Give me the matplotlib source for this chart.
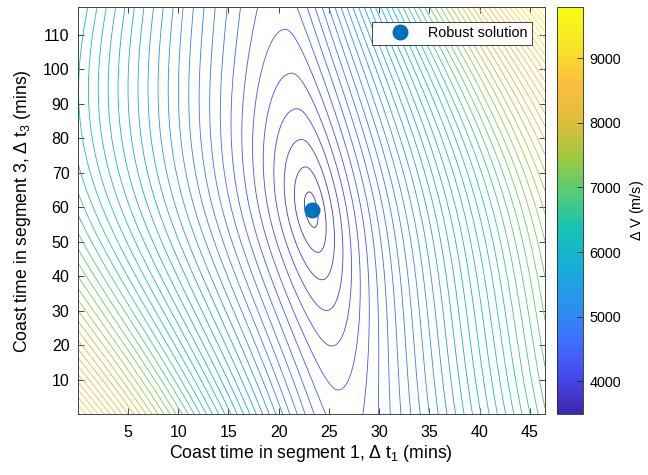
import numpy as np
import matplotlib
matplotlib.use('Agg')
import matplotlib.pyplot as plt
from matplotlib.colors import LinearSegmentedColormap

plt.rcParams['font.family'] = ['Liberation Sans', 'DejaVu Sans']
plt.rcParams['mathtext.fontset'] = 'custom'
plt.rcParams['mathtext.rm'] = 'Liberation Sans'
plt.rcParams['mathtext.it'] = 'Liberation Sans'

# coast time grids (mins)
t1_range = [0.0, 46.5]
t3_range = [0.0, 118.0]

# robust solution
t1_opt = 23.3
t3_opt = 59.3
dv_min = 3490.0

# valley of the delta-V surface: t1 = t1_opt + v1*q, q = t3 - t3_opt
valley_lin = -0.05
# cross-valley slope (m/s per min of t1) on each side: s0 + s1*q + s2*q^2 + s3*q^3
slope_left = [137.0, -0.60, 0.0115, 0.0]
slope_right = [172.0, 0.40, 0.008, 0.00008]
# rise along the valley floor: g1*|q| + g2*q^2
floor_rise = [19.0, -0.10]

# contour levels (m/s)
first_level = 3585.0
level_step = 125.0

# parula colour anchors
parula_pts = [
    (0.2422, 0.1504, 0.6603),
    (0.2758, 0.2888, 0.9270),
    (0.2473, 0.4372, 0.9975),
    (0.1684, 0.5766, 0.9301),
    (0.0821, 0.6841, 0.8488),
    (0.0890, 0.7590, 0.7066),
    (0.3325, 0.8000, 0.4617),
    (0.6418, 0.7857, 0.2462),
    (0.8882, 0.7383, 0.2394),
    (0.9941, 0.7463, 0.2399),
    (0.9654, 0.9010, 0.1453),
    (0.9769, 0.9839, 0.0805),
]
parula = LinearSegmentedColormap.from_list('parula', parula_pts)


def poly(c, x):
    return c[0] + c[1] * x + c[2] * x**2 + c[3] * x**3


t1 = np.linspace(t1_range[0], t1_range[1], 600)
t3 = np.linspace(t3_range[0], t3_range[1], 600)
T1, T3 = np.meshgrid(t1, t3)

q = T3 - t3_opt
p = T1 - (t1_opt + valley_lin * q)
slope = np.where(p < 0, poly(slope_left, q), poly(slope_right, q))
floor = floor_rise[0] * np.abs(q) + floor_rise[1] * q**2
dv = dv_min + np.sqrt((slope * p)**2 + floor**2)

fig = plt.figure(figsize=(6.48, 4.75), dpi=100)
ax = fig.add_axes([0.120, 0.128, 0.721, 0.857])
cax = fig.add_axes([0.860, 0.128, 0.040, 0.857])

levels = np.arange(first_level, dv.max(), level_step)
vmin, vmax = dv.min(), dv.max()
ax.contour(T1, T3, dv, levels=levels, cmap=parula, linewidths=0.6,
           vmin=vmin, vmax=vmax)
ax.plot([t1_opt], [t3_opt], 'o', color=(0, 0.447, 0.741), ms=10.5,
        label='Robust solution')

ax.set_xlim(t1_range)
ax.set_ylim(t3_range)
ax.set_xticks(np.arange(5, 46, 5))
ax.set_yticks(np.arange(10, 111, 10))
ax.tick_params(direction='in', top=True, right=True, labelsize=11.5,
               color='#262626', length=4, width=0.6)
ax.tick_params(axis='x', pad=7.5)
ax.tick_params(axis='y', pad=6)
for s in ax.spines.values():
    s.set_color('#262626')
    s.set_linewidth(0.6)
ax.set_xlabel(r'Coast time in segment 1, $\Delta$ $\mathrm{t}_1$ (mins)',
              fontsize=12.7, labelpad=2.5)
ax.set_ylabel(r'Coast time in segment 3, $\Delta$ $\mathrm{t}_3$ (mins)',
              fontsize=12.7, labelpad=7)

leg = ax.legend(loc='upper right', bbox_to_anchor=(0.821, 0.9537),
                bbox_transform=fig.transFigure, borderaxespad=0,
                fontsize=10.4, fancybox=False, edgecolor='#262626',
                framealpha=1, handlelength=3.3, handletextpad=0.3,
                borderpad=0.3)
leg.get_frame().set_linewidth(0.6)

sm = plt.cm.ScalarMappable(cmap=parula, norm=plt.Normalize(vmin, vmax))
cb = fig.colorbar(sm, cax=cax)
cb.set_ticks(np.arange(4000, 9001, 1000))
cb.ax.tick_params(direction='in', labelsize=10.4, color='#262626',
                  length=4, width=0.6, pad=4.3)
cb.outline.set_edgecolor('#262626')
cb.outline.set_linewidth(0.6)
cb.set_label(r'$\Delta$ V (m/s)', fontsize=10.4, labelpad=5)

fig.savefig('out.png', dpi=100)
